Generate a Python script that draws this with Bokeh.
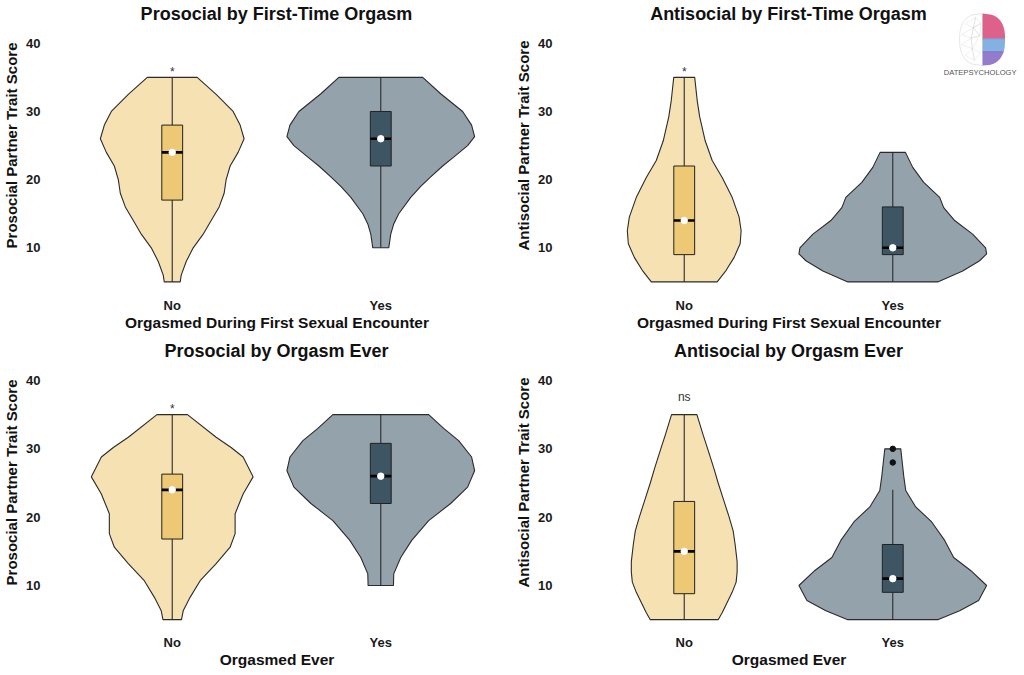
import numpy as np
from bokeh.plotting import figure
from bokeh.layouts import gridplot
from bokeh.models import Range1d, FixedTicker, Label, PolyAnnotation
from bokeh.core.properties import value
from bokeh.embed import file_html
from bokeh.resources import INLINE

FONT = "Liberation Sans"

# ---------------- data ----------------
categories = ["No", "Yes"]
y_ticks = [10, 20, 30, 40]

titles = ["Prosocial by First-Time Orgasm", "Antisocial by First-Time Orgasm",
          "Prosocial by Orgasm Ever", "Antisocial by Orgasm Ever"]
x_titles = ["Orgasmed During First Sexual Encounter", "Orgasmed During First Sexual Encounter",
            "Orgasmed Ever", "Orgasmed Ever"]
y_titles = ["Prosocial Partner Trait Score", "Antisocial Partner Trait Score",
            "Prosocial Partner Trait Score", "Antisocial Partner Trait Score"]

# violin outlines: score levels and relative half-widths (94 = widest violin)
pro_ft_no_y = [5, 6, 8, 10, 12, 14, 16, 18, 20, 22, 24, 26, 28, 30, 32.5, 35]
pro_ft_no_w = [8, 9, 14, 21, 31, 39, 47, 52, 54, 58, 66, 72, 68, 61, 44, 25]
pro_ft_yes_y = [10, 12, 13.5, 15, 17.4, 19, 20.4, 22, 23.3, 25, 26.3, 28, 30, 32.6, 35]
pro_ft_yes_w = [8, 10, 13, 18, 30, 40, 50, 62, 73, 87, 94, 91, 82, 60, 42]

anti_ft_no_y = [5, 6.7, 8.6, 10.6, 12.5, 14.5, 17.4, 20.3, 22.8, 25.7, 29.2, 31.6, 35]
anti_ft_no_w = [33, 42, 50, 56, 57, 55, 48, 38, 28, 21, 15.5, 13, 10.5]
anti_ft_yes_y = [5, 6.6, 8.1, 9.1, 10, 12, 14, 15.9, 17.4, 19.6, 21.8, 24]
anti_ft_yes_w = [45, 70, 87, 94, 93, 80, 62, 51, 47, 31, 20, 12.7]

pro_ev_no_y = [5, 6.3, 8.3, 10.7, 13.2, 15.6, 17.6, 20.5, 23.4, 25.9, 28.8, 30.2, 31.7, 35]
pro_ev_no_w = [9.3, 11, 18, 28, 44, 58, 63, 63, 71, 81, 71, 59, 44, 15.3]
pro_ev_yes_y = [10, 11.7, 14.1, 16.6, 19.5, 22, 24.4, 26.8, 28.8, 31.2, 33, 35]
pro_ev_yes_w = [12.7, 13, 20, 31, 48, 70, 87, 94, 91, 78, 63, 48]

anti_ev_no_y = [5, 6, 7.5, 9, 10.5, 12, 13.5, 16, 18, 20, 22.5, 25, 27, 30, 32, 35]
anti_ev_no_w = [34, 38, 43, 48, 52, 53, 53, 51, 49, 45, 39.5, 34, 30, 23.5, 19, 12.7]
anti_ev_yes_y = [5, 6.3, 7.8, 10, 12.2, 14.1, 16.6, 19.3, 21.5, 23.9, 26, 28, 30]
anti_ev_yes_w = [45, 67, 86, 94, 78, 61, 52, 39, 23, 13, 11, 9.5, 8]

# box stats: low whisker, Q1, median, Q3, high whisker, mean
pro_ft_no_box = [5, 17, 24, 28, 35, 24]
pro_ft_yes_box = [10, 22, 26, 30, 35, 26]
anti_ft_no_box = [5, 9, 14, 22, 35, 14]
anti_ft_yes_box = [5, 9, 10, 16, 24, 10]
pro_ev_no_box = [5, 16.8, 24, 26.3, 35, 24]
pro_ev_yes_box = [10, 22, 26, 30.8, 35, 26]
anti_ev_no_box = [5, 8.8, 15, 22.3, 35, 15]
anti_ev_yes_box = [5, 9, 11, 16, 24, 11]

anti_ev_yes_outliers = [28, 30]

sig_labels = ["*", "*", "*", "ns"]
sig_y = [35.8, 35.8, 35.8, 37.6]

# ---------------- styling ----------------
VIOLIN_FILL = ["#F5E1B1", "#94A3AB"]
BOX_FILL = ["#EDC975", "#3E5563"]
WIDTH_SCALE = 0.45 / 94.0     # ggplot violin width 0.9 -> widest half-width 0.45
BOX_HALF = 0.05
TITLE_BASE = 44.28            # title baseline, in score units above the panel

panels = [
    dict(v=[(pro_ft_no_y, pro_ft_no_w), (pro_ft_yes_y, pro_ft_yes_w)],
         b=[pro_ft_no_box, pro_ft_yes_box], out=[[], []]),
    dict(v=[(anti_ft_no_y, anti_ft_no_w), (anti_ft_yes_y, anti_ft_yes_w)],
         b=[anti_ft_no_box, anti_ft_yes_box], out=[[], []]),
    dict(v=[(pro_ev_no_y, pro_ev_no_w), (pro_ev_yes_y, pro_ev_yes_w)],
         b=[pro_ev_no_box, pro_ev_yes_box], out=[[], []]),
    dict(v=[(anti_ev_no_y, anti_ev_no_w), (anti_ev_yes_y, anti_ev_yes_w)],
         b=[anti_ev_no_box, anti_ev_yes_box], out=[[], anti_ev_yes_outliers]),
]

FIG_W = 512
ROW_H = [337, 338]
FRAME_H = 290


def make_panel(i):
    row = i // 2
    xr = Range1d(0.4019, 2.6029)
    if row == 0:
        yr = Range1d(3.738, 46.278)
    else:
        yr = Range1d(3.853, 46.293)
    h = ROW_H[row]
    p = figure(width=FIG_W, height=h, x_range=xr, y_range=yr,
               output_backend="svg", toolbar_location=None,
               min_border_left=46, min_border_right=6,
               min_border_top=0, min_border_bottom=h - FRAME_H)

    p.xgrid.visible = False
    p.ygrid.visible = False
    p.outline_line_color = None
    p.background_fill_color = "white"
    p.border_fill_color = "white"

    for ax in (p.xaxis, p.yaxis):
        ax.axis_line_color = None
        ax.major_tick_line_color = None
        ax.minor_tick_line_color = None
        ax.major_tick_out = 0
        ax.major_tick_in = 0
        ax.major_label_text_font = FONT
        ax.major_label_text_font_size = "13px"
        ax.major_label_text_font_style = "bold"
        ax.major_label_text_color = "#1a1a1a"
        ax.axis_label_text_font = FONT
        ax.axis_label_text_font_style = "bold"
        ax.axis_label_text_color = "#111111"

    p.xaxis.ticker = FixedTicker(ticks=[1, 2])
    p.xaxis.major_label_overrides = {1: categories[0], 2: categories[1]}
    p.xaxis.major_label_standoff = 7
    p.xaxis.axis_label = x_titles[i]
    p.xaxis.axis_label_text_font_size = "15.5px"
    p.xaxis.axis_label_standoff = -2

    p.yaxis.ticker = FixedTicker(ticks=y_ticks)
    p.yaxis.major_label_standoff = 7
    p.yaxis.axis_label = y_titles[i]
    p.yaxis.axis_label_text_font_size = "15px"
    p.yaxis.axis_label_standoff = 3

    # panel title
    p.add_layout(Label(x=1.5, y=TITLE_BASE, text=titles[i], text_font=FONT,
                       text_font_size="18px", text_font_style="bold",
                       text_align="center", text_baseline="alphabetic",
                       text_color="#111111"))

    pan = panels[i]
    for k in range(2):
        c = k + 1
        ys, ws = pan["v"][k]
        ys = np.asarray(ys, dtype=float)
        hw = np.asarray(ws, dtype=float) * WIDTH_SCALE
        xs = np.concatenate([c + hw, (c - hw)[::-1]])
        yy = np.concatenate([ys, ys[::-1]])
        p.patch(xs, yy, fill_color=VIOLIN_FILL[k], line_color="#2b2b2b",
                line_width=1.1)

        lo, q1, med, q3, hi, mean = pan["b"][k]
        p.segment(x0=[c, c], y0=[lo, q3], x1=[c, c], y1=[q1, hi],
                  line_color="#2b2b2b", line_width=1.1)
        p.quad(left=[c - BOX_HALF], right=[c + BOX_HALF], bottom=[q1], top=[q3],
               fill_color=BOX_FILL[k], line_color="#222222", line_width=1.0)
        p.segment(x0=[c - BOX_HALF], y0=[med], x1=[c + BOX_HALF], y1=[med],
                  line_color="#000000", line_width=2.6)
        if pan["out"][k]:
            p.scatter(x=[c] * len(pan["out"][k]), y=pan["out"][k], size=5.5,
                      marker="circle", fill_color="#111111", line_color="#111111")
        p.scatter(x=[c], y=[mean], size=6.5, marker="circle",
                  fill_color="white", line_color="white")

    p.text(x=[1], y=[sig_y[i]], text=[sig_labels[i]], text_font=value(FONT),
           text_font_size="12px", text_align="center", text_baseline="alphabetic",
           text_color="#333333")
    return p


figs = [make_panel(i) for i in range(4)]

# ---------------- logo (decoration, top-right panel) ----------------
lp = figs[1]
cx, cy, hwx, hhy = 2.4306, 40.557, 0.110, 3.814


def ell(t):
    return (1 - np.abs(t) ** 2.5) ** (1 / 2.5)


def band(t0, t1, color):
    ts = np.linspace(t0, t1, 24)
    xs = list(cx + ell(ts) * hwx * 0.98) + [cx, cx]
    ys = list(cy + ts * hhy) + [cy + t1 * hhy, cy + t0 * hhy]
    lp.add_layout(PolyAnnotation(xs=xs, ys=ys, xs_units="data", ys_units="data",
                                 fill_color=color, fill_alpha=0.9, line_color=None))


band(0.0, 1.0, "#D9507E")
band(-0.5, 0.05, "#76A8DF")
band(-1.0, -0.45, "#8A6DC6")

ts = np.linspace(-1, 1, 40)
lx = list(cx - ell(ts) * hwx) + [cx]
ly = list(cy + ts * hhy) + [cy + hhy]
lp.add_layout(PolyAnnotation(xs=lx, ys=ly, xs_units="data", ys_units="data",
                             fill_color=None, fill_alpha=0, line_color="#888888",
                             line_width=0.7))
nodes = [(-0.3, 0.85), (-0.75, 0.6), (-0.4, 0.45), (-0.9, 0.2), (-0.5, 0.05),
         (-0.92, -0.2), (-0.45, -0.35), (-0.75, -0.62), (-0.35, -0.8),
         (-0.08, 0.62), (-0.12, 0.15), (-0.1, -0.5)]
tris = [(0, 1, 2), (0, 2, 9), (2, 3, 4), (2, 4, 10), (4, 5, 6), (4, 6, 10),
        (6, 7, 8), (6, 8, 11), (9, 10, 2)]
for a, b_, c_ in tris:
    xs = [cx + nodes[j][0] * hwx for j in (a, b_, c_)]
    ys = [cy + nodes[j][1] * hhy for j in (a, b_, c_)]
    lp.add_layout(PolyAnnotation(xs=xs, ys=ys, xs_units="data", ys_units="data",
                                 fill_color=None, fill_alpha=0, line_color="#9a9a9a",
                                 line_width=0.5))
lp.add_layout(Label(x=2.4187, y=35.72, text="DATEPSYCHOLOGY", text_font=FONT,
                    text_font_size="7.6px", text_align="center", text_baseline="middle",
                    text_color="#555555"))

grid = gridplot([[figs[0], figs[1]], [figs[2], figs[3]]], toolbar_location=None)

open("out.html", "w").write(file_html(grid, INLINE))
